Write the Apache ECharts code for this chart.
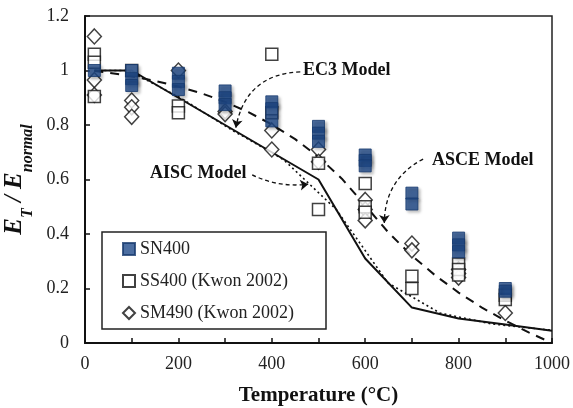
<!DOCTYPE html>
<html>
<head>
<meta charset="utf-8">
<script src="https://cdn.jsdelivr.net/npm/echarts@6/dist/echarts.min.js"></script>
<style>
  html, body { margin: 0; padding: 0; background: #fff; }
  #chart { width: 573px; height: 408px; }
</style>
</head>
<body>
<div id="chart"></div>
<script>
  // measured points: [temperature, E_T/E_normal]
  var sn400 = [
    [20, 1.0], [100, 1.0], [100, 0.97], [100, 0.945],
    [200, 0.99], [200, 0.96], [200, 0.93],
    [300, 0.925], [300, 0.9], [300, 0.875],
    [400, 0.885], [400, 0.86], [400, 0.815],
    [500, 0.795], [500, 0.77], [500, 0.74],
    [600, 0.69], [600, 0.67], [600, 0.65],
    [700, 0.55], [700, 0.51],
    [800, 0.385], [800, 0.36], [800, 0.335],
    [900, 0.2], [900, 0.19]
  ];
  var ss400 = [
    [20, 1.06], [20, 1.03], [20, 0.905], [100, 1.0],
    [200, 0.87], [200, 0.845],
    [400, 1.06], [400, 0.845],
    [500, 0.66], [500, 0.49],
    [600, 0.585], [600, 0.5], [600, 0.48],
    [700, 0.245], [700, 0.2],
    [800, 0.29], [800, 0.27], [800, 0.25],
    [900, 0.175], [900, 0.16]
  ];
  var sm490 = [
    [20, 1.125], [20, 0.965], [20, 0.91],
    [100, 0.89], [100, 0.865], [100, 0.83],
    [200, 1.0],
    [300, 0.85], [300, 0.84],
    [400, 0.78], [400, 0.71],
    [500, 0.71], [500, 0.665],
    [600, 0.525], [600, 0.49], [600, 0.45],
    [700, 0.365], [700, 0.34],
    [800, 0.27], [800, 0.255], [800, 0.24],
    [900, 0.11]
  ];
  // model curves
  var ec3Model = [[20, 1.0], [100, 1.0], [500, 0.6], [600, 0.31], [700, 0.13],
    [800, 0.09], [900, 0.0675], [1000, 0.045]];
  var aiscModel = [[20, 1.0], [93, 1.0], [204, 0.9], [316, 0.78], [399, 0.7], [427, 0.67],
    [538, 0.49], [649, 0.22], [760, 0.11], [871, 0.07], [982, 0.05], [1000, 0.047]];
  var asceModel = [[20, 0.998], [50, 0.992], [100, 0.979], [150, 0.962], [200, 0.941],
    [250, 0.916], [300, 0.885], [350, 0.847], [400, 0.802], [450, 0.748], [500, 0.683],
    [550, 0.603], [600, 0.505], [650, 0.405], [700, 0.32], [750, 0.248], [800, 0.185],
    [850, 0.13], [900, 0.082], [950, 0.039], [1000, 0.0]];
  // annotation arrows (from label to curve)
  var arrows = [
    {coords: [[461, 0.995], [323, 0.79]], curveness: -0.4},
    {coords: [[358, 0.617], [478, 0.583]], curveness: -0.15},
    {coords: [[724, 0.675], [641, 0.44]], curveness: -0.3}
  ];

  var serif = 'Liberation Serif';
  var chart = echarts.init(document.getElementById('chart'));

  var markerShadow = {shadowBlur: 3, shadowOffsetX: 2, shadowOffsetY: 2, shadowColor: 'rgba(0,0,0,0.35)'};

  var option = {
    animation: false,
    backgroundColor: '#fff',
    textStyle: {fontFamily: serif},
    grid: {
      left: 85, right: 21, top: 16, bottom: 65,
      outerBoundsMode: 'none',
      show: true, borderColor: '#222', borderWidth: 1.5
    },
    legend: {
      left: 102, top: 232,
      orient: 'vertical',
      data: ['SN400', 'SS400 (Kwon 2002)', 'SM490 (Kwon 2002)'],
      itemWidth: 12, itemHeight: 12, itemGap: 14,
      padding: [8, 32, 7, 20],
      borderColor: '#222', borderWidth: 1.5,
      backgroundColor: '#fff',
      textStyle: {fontFamily: serif, fontSize: 18, color: '#222'}
    },
    xAxis: {
      type: 'value', min: 0, max: 1000, interval: 100,
      name: 'Temperature (°C)', nameLocation: 'middle', nameGap: 42,
      nameTextStyle: {fontFamily: serif, fontSize: 21, fontWeight: 'bold', color: '#111'},
      axisLine: {lineStyle: {color: '#111', width: 2}},
      axisTick: {inside: true, length: 5, lineStyle: {color: '#111', width: 1.5}},
      axisLabel: {
        fontFamily: serif, fontSize: 18, color: '#222', margin: 12,
        formatter: function (v) { return v % 200 === 0 ? String(v) : ''; }
      },
      splitLine: {show: false}
    },
    yAxis: {
      type: 'value', min: 0, max: 1.2, interval: 0.2,
      name: '{e|E}{s|T}{e| / E}{s|normal}', nameLocation: 'middle', nameGap: 52,
      nameTextStyle: {
        rich: {
          e: {fontFamily: serif, fontSize: 25, fontWeight: 'bold', fontStyle: 'italic', color: '#111', lineHeight: 30},
          s: {fontFamily: serif, fontSize: 16, fontWeight: 'bold', fontStyle: 'italic', color: '#111',
              lineHeight: 30, verticalAlign: 'bottom', padding: [0, 0, -6, 0]}
        }
      },
      axisLine: {show: true, lineStyle: {color: '#111', width: 2}},
      axisTick: {show: true, inside: true, length: 5, lineStyle: {color: '#111', width: 1.5}},
      axisLabel: {fontFamily: serif, fontSize: 18, color: '#222', margin: 16,
        formatter: function (v) { return String(Math.round(v * 10) / 10); }},
      splitLine: {show: false}
    },
    graphic: [
      {type: 'text', left: 303, top: 61, style: {text: 'EC3 Model', fontFamily: serif, fontSize: 18, fontWeight: 'bold', fill: '#111'}},
      {type: 'text', left: 150, top: 164, style: {text: 'AISC Model', fontFamily: serif, fontSize: 18, fontWeight: 'bold', fill: '#111'}},
      {type: 'text', left: 432, top: 151, style: {text: 'ASCE Model', fontFamily: serif, fontSize: 18, fontWeight: 'bold', fill: '#111'}}
    ],
    series: [
      {
        name: 'EC3', type: 'line', data: ec3Model, showSymbol: false, z: 1,
        lineStyle: {color: '#111', width: 2}
      },
      {
        name: 'AISC', type: 'line', data: aiscModel, showSymbol: false, z: 1,
        lineStyle: {color: '#111', width: 1.6, type: [2, 3]}
      },
      {
        name: 'ASCE', type: 'line', data: asceModel, showSymbol: false, z: 1,
        lineStyle: {color: '#111', width: 2, type: [9, 7]}
      },
      {
        name: 'arrows', type: 'lines', coordinateSystem: 'cartesian2d', z: 1,
        symbol: ['none', 'arrow'], symbolSize: 8,
        lineStyle: {color: '#111', width: 1.3, type: [4, 3], opacity: 1},
        data: arrows.map(function (a) { return {coords: a.coords, lineStyle: {curveness: a.curveness}}; })
      },
      {
        name: 'SM490 (Kwon 2002)', type: 'scatter', data: sm490, z: 3,
        symbol: 'diamond', symbolSize: [14, 15],
        itemStyle: {color: '#fff', borderColor: '#111', borderWidth: 1.5}
      },
      {
        name: 'SS400 (Kwon 2002)', type: 'scatter', data: ss400, z: 4,
        symbol: 'rect', symbolSize: 12,
        itemStyle: {color: '#fff', borderColor: '#111', borderWidth: 1.5}
      },
      {
        name: 'SN400', type: 'scatter', data: sn400, z: 5,
        symbol: 'rect', symbolSize: 12,
        itemStyle: Object.assign({color: '#1f4a8a', borderColor: '#17396e', borderWidth: 1}, markerShadow)
      }
    ]
  };
  chart.setOption(option);
</script>
</body>
</html>
